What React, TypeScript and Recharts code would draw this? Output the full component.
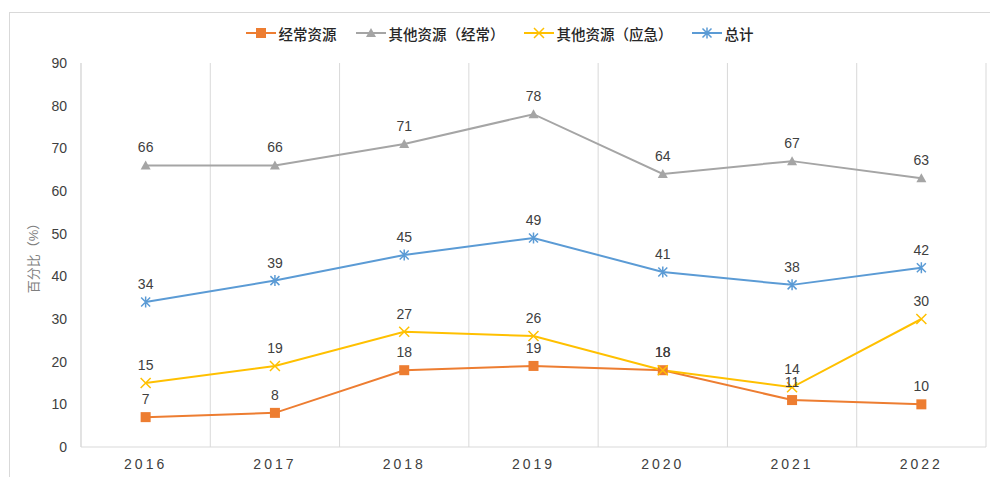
import React from "react";
import { LineChart, Line, XAxis, YAxis, CartesianGrid, Legend, LabelList } from "recharts";

const years = ["2016", "2017", "2018", "2019", "2020", "2021", "2022"];
const regular = [7, 8, 18, 19, 18, 11, 10];
const otherRegular = [66, 66, 71, 78, 64, 67, 63];
const otherEmergency = [15, 19, 27, 26, 18, 14, 30];
const total = [34, 39, 45, 49, 41, 38, 42];
const yTicks = [0, 10, 20, 30, 40, 50, 60, 70, 80, 90];

const FONT = "'Liberation Sans', Arial, 'Noto Sans CJK SC', sans-serif";

const series = [
    { key: "regular", name: "经常资源", color: "#ED7D31", shape: "square" },
    { key: "otherRegular", name: "其他资源（经常）", color: "#A5A5A5", shape: "triangle" },
    { key: "otherEmergency", name: "其他资源（应急）", color: "#FFC000", shape: "x" },
    { key: "total", name: "总计", color: "#5B9BD5", shape: "star" },
];

const data = years.map((y, i) => ({
    idx: i,
    year: y,
    regular: regular[i],
    otherRegular: otherRegular[i],
    otherEmergency: otherEmergency[i],
    total: total[i],
}));

const xDomain: [number, number] = [-0.5, years.length - 0.5];
// 类别之间的分隔线（Excel 风格）
const boundaryTicks = [...years.map((_, i) => i - 0.5), years.length - 0.5];

function gridX({ xAxis, offset }: any) {
    if (xAxis && typeof xAxis.scale === "function") return boundaryTicks.map((t) => xAxis.scale(t));
    const span = xDomain[1] - xDomain[0];
    return boundaryTicks.map((t) => offset.left + ((t - xDomain[0]) / span) * offset.width);
}

function Marker({ cx, cy, shape, color }: { cx: number; cy: number; shape: string; color: string }) {
    if (cx == null || cy == null) return null;
    if (shape === "square") return <rect x={cx - 5} y={cy - 5} width={10} height={10} fill={color} />;
    if (shape === "triangle")
        return <polygon points={`${cx},${cy - 5} ${cx + 5},${cy + 4} ${cx - 5},${cy + 4}`} fill={color} />;
    if (shape === "x")
        return (
            <path d={`M${cx - 5},${cy - 5}L${cx + 5},${cy + 5}M${cx - 5},${cy + 5}L${cx + 5},${cy - 5}`} stroke={color} strokeWidth={1.5} />
        );
    return (
        <path
            d={`M${cx - 4.5},${cy - 4.5}L${cx + 4.5},${cy + 4.5}M${cx - 4.5},${cy + 4.5}L${cx + 4.5},${cy - 4.5}M${cx},${cy - 5.5}L${cx},${cy + 5.5}`}
            stroke={color}
            strokeWidth={1.5}
        />
    );
}

function renderLegend() {
    return (
        <div style={{ height: 40, display: "flex", justifyContent: "center", paddingLeft: 32, fontFamily: FONT }}>
            {series.map((s) => (
                <div key={s.key} style={{ display: "flex", alignItems: "center", height: 20, marginRight: 19 }}>
                    <svg width={30} height={20}>
                        <line x1={0} y1={10} x2={30} y2={10} stroke={s.color} strokeWidth={2} />
                        <Marker cx={15} cy={10} shape={s.shape} color={s.color} />
                    </svg>
                    <span style={{ marginLeft: 3, fontSize: 14.5, color: "#262626", fontWeight: 500 }}>{s.name}</span>
                </div>
            ))}
        </div>
    );
}

const renderValue = (props: any) => {
    const { x, y, value } = props;
    return (
        <text x={x} y={y - 13} textAnchor="middle" fontSize={14} fill="#404040" fontFamily={FONT}>
            {value}
        </text>
    );
};

export default function App() {
    return (
        <div style={{ position: "absolute", left: 0, top: 0, width: 990, height: 477, background: "#fff" }}>
            <div style={{ position: "absolute", left: 9, top: 12, width: 990, height: 477, border: "1px solid #d9d9d9" }} />
            <LineChart width={990} height={477} data={data} margin={{ top: 23, right: 4, bottom: 0, left: 0 }} style={{ fontFamily: FONT }}>
                <CartesianGrid horizontal={false} stroke="#d9d9d9" verticalCoordinatesGenerator={gridX} />
                <XAxis
                    dataKey="idx"
                    type="number"
                    domain={xDomain}
                    ticks={years.map((_, i) => i)}
                    tickFormatter={(v) => years[v]}
                    axisLine={{ stroke: "#d9d9d9" }}
                    tickLine={false}
                    tickMargin={6}
                    height={30}
                    tick={{ fontSize: 14, fill: "#404040", letterSpacing: 3 }}
                />
                <YAxis
                    domain={[0, 90]}
                    ticks={yTicks}
                    width={81}
                    axisLine={{ stroke: "#d9d9d9" }}
                    tickLine={false}
                    tickSize={12}
                    tickMargin={2}
                    tick={{ fontSize: 14, fill: "#404040" }}
                    label={(props: any) => {
                        const vb = props.viewBox;
                        const cx = vb.x + 33;
                        const cy = vb.y + vb.height / 2;
                        return (
                            <text x={cx} y={cy} transform={`rotate(-90 ${cx} ${cy})`} textAnchor="middle" dominantBaseline="central" fontSize={13} fill="#7f7f7f" fontFamily={FONT}>
                                百分比（%）
                            </text>
                        );
                    }}
                />
                <Legend verticalAlign="top" content={renderLegend} />
                {series.map((s) => (
                    <Line
                        key={s.key}
                        dataKey={s.key}
                        name={s.name}
                        stroke={s.color}
                        strokeWidth={2}
                        isAnimationActive={false}
                        dot={(p: any) => <Marker key={`${s.key}-${p.index}`} cx={p.cx} cy={p.cy} shape={s.shape} color={s.color} />}
                        activeDot={false}
                    >
                        <LabelList dataKey={s.key} content={renderValue} />
                    </Line>
                ))}
            </LineChart>
        </div>
    );
}
